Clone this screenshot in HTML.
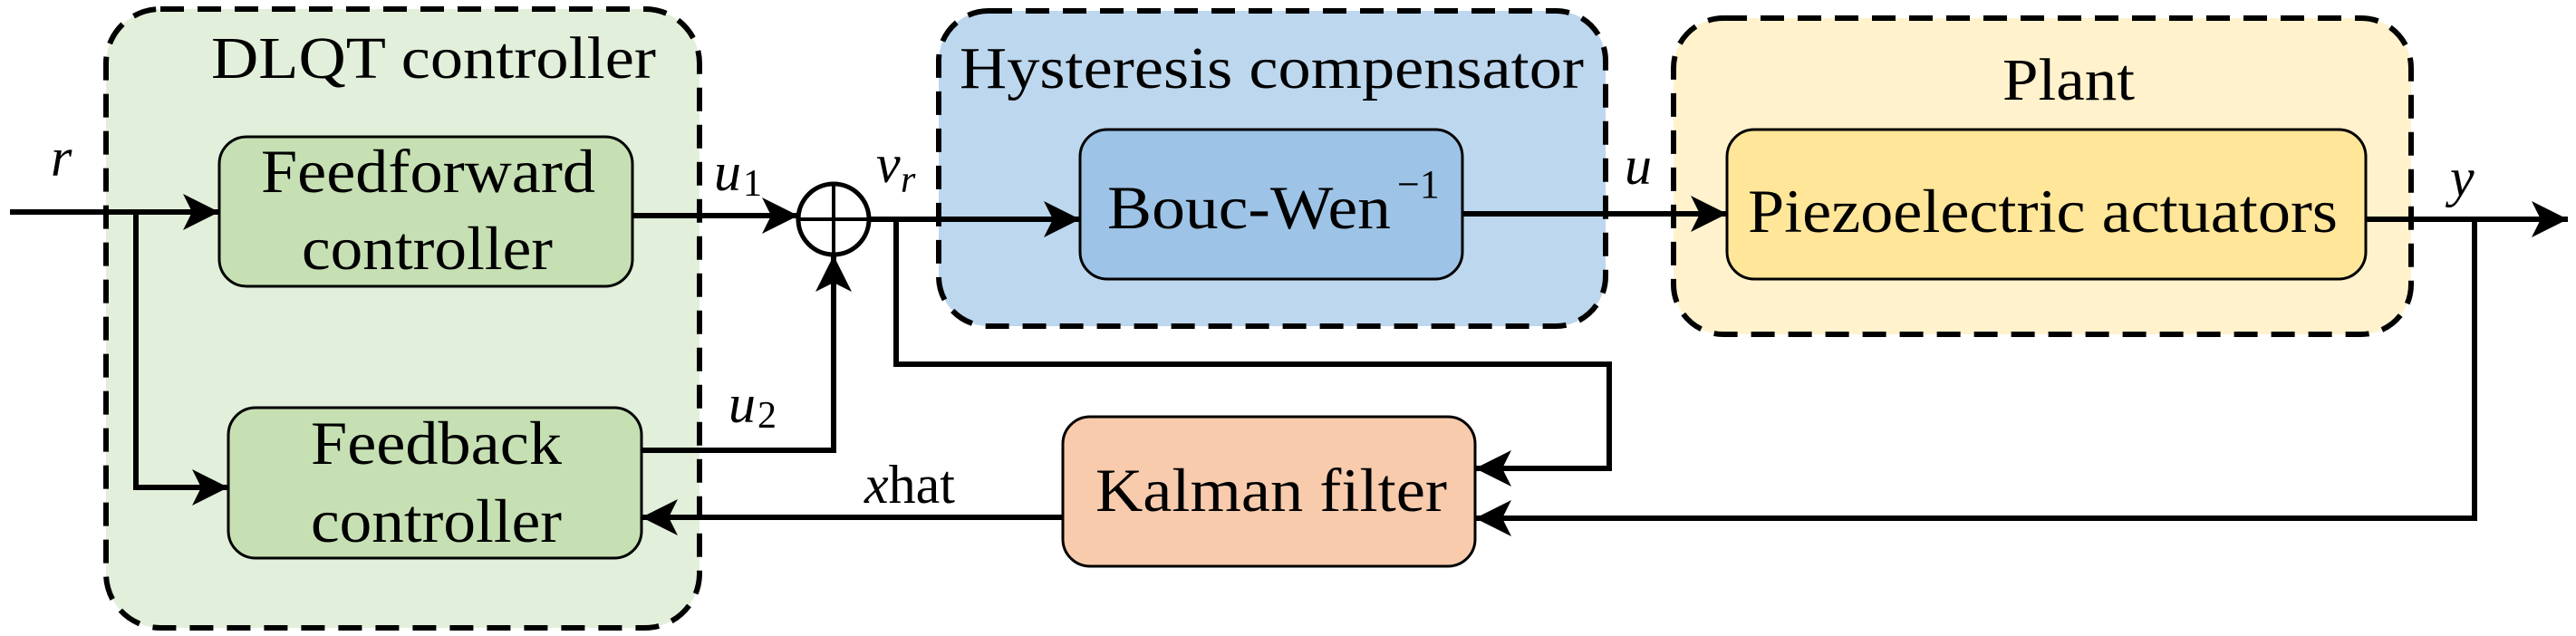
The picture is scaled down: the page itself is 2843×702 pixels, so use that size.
<!DOCTYPE html>
<html><head><meta charset="utf-8"><style>html,body{margin:0;padding:0;background:#fff}svg{display:block}</style></head>
<body>
<svg width="2843" height="702" viewBox="0 0 2843 702" xmlns="http://www.w3.org/2000/svg" font-family="'Liberation Serif', serif" fill="#000">
<defs>
<marker id="a" markerUnits="userSpaceOnUse" markerWidth="44" markerHeight="44" refX="40" refY="20" orient="auto"><path d="M0,0 L40,20 L0,40 L10,20 Z" fill="#000"/></marker>
</defs>
<!-- group boxes -->
<rect x="117" y="10" width="655" height="683" rx="60" fill="#e2efda" stroke="#000" stroke-width="6" stroke-dasharray="26,15"/>
<rect x="1036" y="12" width="736" height="348" rx="55" fill="#bdd7ee" stroke="#000" stroke-width="6" stroke-dasharray="26,15"/>
<rect x="1847" y="20" width="814" height="349" rx="55" fill="#fff2cc" stroke="#000" stroke-width="6" stroke-dasharray="26,15"/>
<text x="233" y="86" font-size="66" textLength="491" lengthAdjust="spacingAndGlyphs">DLQT controller</text>
<text x="1059" y="97" font-size="66" textLength="689" lengthAdjust="spacingAndGlyphs">Hysteresis compensator</text>
<text x="2210" y="110" font-size="66" textLength="146" lengthAdjust="spacingAndGlyphs">Plant</text>
<!-- inner blocks -->
<rect x="242" y="151" width="456" height="165" rx="30" fill="#c6e0b4" stroke="#000" stroke-width="3"/>
<rect x="252" y="450" width="456" height="166" rx="30" fill="#c6e0b4" stroke="#000" stroke-width="3"/>
<rect x="1192" y="143" width="422" height="165" rx="30" fill="#9dc3e6" stroke="#000" stroke-width="3"/>
<rect x="1906" y="143" width="705" height="165" rx="30" fill="#ffe699" stroke="#000" stroke-width="3"/>
<rect x="1173" y="460" width="455" height="165" rx="30" fill="#f8cbad" stroke="#000" stroke-width="3"/>
<text x="288" y="212" font-size="68" textLength="369" lengthAdjust="spacingAndGlyphs">Feedforward</text>
<text x="333" y="297" font-size="68" textLength="277" lengthAdjust="spacingAndGlyphs">controller</text>
<text x="343" y="512" font-size="68" textLength="277" lengthAdjust="spacingAndGlyphs">Feedback</text>
<text x="343" y="598" font-size="68" textLength="277" lengthAdjust="spacingAndGlyphs">controller</text>
<text x="1222" y="252" font-size="68" textLength="313" lengthAdjust="spacingAndGlyphs">Bouc-Wen</text>
<text x="1542" y="218" font-size="44">−1</text>
<text x="1929" y="256" font-size="68" textLength="651" lengthAdjust="spacingAndGlyphs">Piezoelectric actuators</text>
<text x="1209" y="564" font-size="68" textLength="388" lengthAdjust="spacingAndGlyphs">Kalman filter</text>
<!-- signal labels -->
<text x="56" y="194" font-size="60" font-style="italic">r</text>
<text x="788" y="210" font-size="60" font-style="italic">u</text><text x="820" y="216" font-size="42">1</text>
<text x="804" y="466" font-size="60" font-style="italic">u</text><text x="836" y="472" font-size="42">2</text>
<text x="967" y="201" font-size="60" font-style="italic">v</text><text x="994" y="212" font-size="42" font-style="italic">r</text>
<text x="1793" y="203" font-size="60" font-style="italic">u</text>
<text x="2704" y="216" font-size="60" font-style="italic">y</text>
<text x="954" y="555" font-size="60"><tspan font-style="italic">x</tspan>hat</text>
<!-- connectors -->
<g stroke="#000" stroke-width="6" fill="none">
<line x1="11" y1="234" x2="242" y2="234" marker-end="url(#a)"/>
<polyline points="150,234 150,538 252,538" marker-end="url(#a)"/>
<line x1="698" y1="238" x2="881" y2="238" marker-end="url(#a)"/>
<polyline points="708,497 920,497 920,282" marker-end="url(#a)"/>
<ellipse cx="920" cy="242" rx="39" ry="39" stroke-width="5"/>
<line x1="881" y1="242" x2="959" y2="242" stroke-width="4"/>
<line x1="920" y1="203" x2="920" y2="281" stroke-width="4"/>
<line x1="959" y1="242" x2="1192" y2="242" marker-end="url(#a)"/>
<polyline points="989,242 989,402 1776,402 1776,517 1628,517" marker-end="url(#a)"/>
<line x1="1614" y1="236" x2="1906" y2="236" marker-end="url(#a)"/>
<line x1="2611" y1="242" x2="2834" y2="242" marker-end="url(#a)"/>
<polyline points="2731,242 2731,572 1628,572" marker-end="url(#a)"/>
<line x1="1173" y1="571" x2="708" y2="571" marker-end="url(#a)"/>
</g>
</svg>
</body></html>
